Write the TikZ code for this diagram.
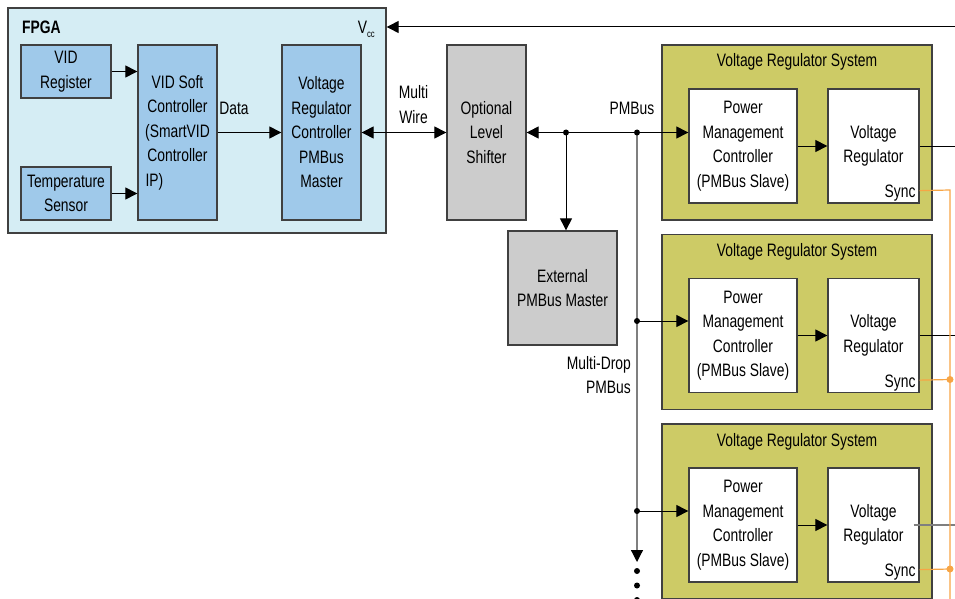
\documentclass[tikz,border=0pt]{standalone}
\usepackage{fontspec}
\setmainfont{Liberation Sans}[FakeStretch=0.77]
\usetikzlibrary{arrows.meta}
\definecolor{fpgabg}{HTML}{D5EDF4}
\definecolor{blu}{HTML}{9FC9EA}
\definecolor{gry}{HTML}{CCCCCC}
\definecolor{olive}{HTML}{CDCB66}
\definecolor{org}{HTML}{F7A545}
\definecolor{edge}{HTML}{404040}
\definecolor{busgray}{HTML}{7F7F7F}
\begin{document}
\begin{tikzpicture}[x=1pt,y=-1pt, font=\fontsize{18}{24.5}\selectfont,
 box/.style={draw=edge, line width=1.3pt, align=center, inner sep=0pt},
 bluebox/.style={box, fill=blu},
 graybox/.style={box, fill=gry},
 whitebox/.style={box, fill=white},
 olivebox/.style={box, fill=olive},
 fpgabox/.style={box, fill=fpgabg},
 blacktip/.tip={Triangle[length=12pt,width=12pt,color=black]},
 arr/.style={line width=1pt, -{blacktip}},
 darr/.style={line width=1pt, {blacktip}-{blacktip}},
 dot/.style={circle, fill=black, inner sep=0pt, minimum size=6pt},
 odot/.style={circle, fill=org, inner sep=0pt, minimum size=7pt},
 lbl/.style={inner sep=0pt, align=center},
 orline/.style={draw=org, line width=1.2pt},
]
\useasboundingbox (0,0) rectangle (955,599);

% FPGA
\node[fpgabox, minimum width=378pt, minimum height=225pt] (fpga) at (197,120.5) {};
\node[lbl, anchor=base west, font=\fontsize{18}{20}\selectfont\bfseries] (fpgalbl) at (22,33.5) {FPGA};
\node[lbl, anchor=base east] (vcc) at (375,33.5) {V\raisebox{-0.45ex}{\fontsize{10}{10}\selectfont cc}};

\node[bluebox, minimum width=90pt, minimum height=53pt] (vidreg) at (66,71.5) {VID\\Register};
\node[bluebox, minimum width=90pt, minimum height=53pt] (temp) at (66,193.5) {Temperature\\Sensor};
\node[bluebox, minimum width=79pt, minimum height=175pt] (vidsoft) at (177.5,132.5)
  {VID Soft\\Controller\\(SmartVID\\Controller\\\makebox[64pt][l]{IP)}};
\node[bluebox, minimum width=79pt, minimum height=175pt] (vrc) at (321.5,132.5)
  {Voltage\\Regulator\\Controller\\PMBus\\Master};

\node[graybox, minimum width=79pt, minimum height=175pt] (ls) at (486.5,132.5)
  {Optional\\Level\\Shifter};
\node[graybox, minimum width=109pt, minimum height=114pt] (ext) at (562.5,288)
  {External\\PMBus Master};

% labels
\node[lbl, anchor=base] (datalbl) at (234,115) {Data};
\node[lbl] (mwlbl) at (413.5,104.5) {Multi\\Wire};
\node[lbl, anchor=base] (pmbuslbl) at (632,115) {PMBus};
\node[lbl, anchor=east, align=right] (mdlbl) at (631,375) {Multi-Drop\\PMBus};

% voltage regulator systems
\foreach \k/\dy in {1/0,2/189.5,3/379}{
  \node[olivebox, minimum width=270pt, minimum height=175pt] (vrs\k) at (797,132.5+\dy) {};
  \node[lbl, anchor=base] (vrst\k) at (797,67+\dy) {Voltage Regulator System};
  \node[whitebox, minimum width=108pt, minimum height=114pt] (pmc\k) at (743,146+\dy)
    {Power\\Management\\Controller\\(PMBus Slave)};
  \node[whitebox, minimum width=91pt, minimum height=114pt] (vr\k) at (873.5,146+\dy)
    {Voltage\\Regulator};
  \node[lbl, anchor=base east] (sync\k) at ([xshift=-4pt,yshift=6pt]vr\k.south east) {Sync};
  \draw[arr] (pmc\k) -- (vr\k);
  \coordinate (s\k) at ([yshift=13pt]vr\k.south east);
}

% FPGA internal connectors
\draw[arr] (vidreg.east) -- (vidreg.east -| vidsoft.west);
\draw[arr] (temp.east) -- (temp.east -| vidsoft.west);
\draw[arr] (vidsoft.east) -- (vrc.west);
\draw[darr] (vrc.east) -- (ls.west);

% Vcc
\coordinate (vccin) at (955,27);
\draw[arr] (vccin) -- (vccin -| fpga.east);

% PMBus
\coordinate (j1) at (566,132.5);
\coordinate (j2) at (637,132.5);
\coordinate (j3) at (637,321);
\coordinate (j4) at (637,511);
\coordinate (busend) at (637,562);
\draw[line width=1.2pt, draw=busgray, -{blacktip}] (j2) -- (busend);
\draw[darr] (ls.east) -- (ls.east -| pmc1.west);
\draw[arr] (j1) -- (j1 |- ext.north);
\draw[arr] (j3) -- (j3 -| pmc2.west);
\draw[arr] (j4) -- (j4 -| pmc3.west);
\foreach \j in {j1,j2,j3,j4} \node[dot] at (\j) {};
\foreach \yy in {571,585.5,600} \node[dot] at (637,\yy) {};

% outputs
\coordinate (o1) at (955,146);
\coordinate (o2) at (955,335.5);
\coordinate (o3) at (955,525);
\draw[line width=1pt] (vr1.east) -- (o1);
\draw[line width=1pt] (vr2.east) -- (o2);
\draw[line width=1.2pt, draw=busgray] ([xshift=-6pt]vr3.east) -- (o3);

% sync
\coordinate (sc1) at (950,190);
\coordinate (sc2) at (950,379.5);
\coordinate (sc3) at (950,569);
\coordinate (sbot) at (950,599);
\draw[orline] (s1) -- (sc1) -- (sbot);
\draw[orline] (s2) -- (sc2);
\draw[orline] (s3) -- (sc3);
\node[odot] at (sc2) {};
\node[odot] at (sc3) {};
\end{tikzpicture}
\end{document}
